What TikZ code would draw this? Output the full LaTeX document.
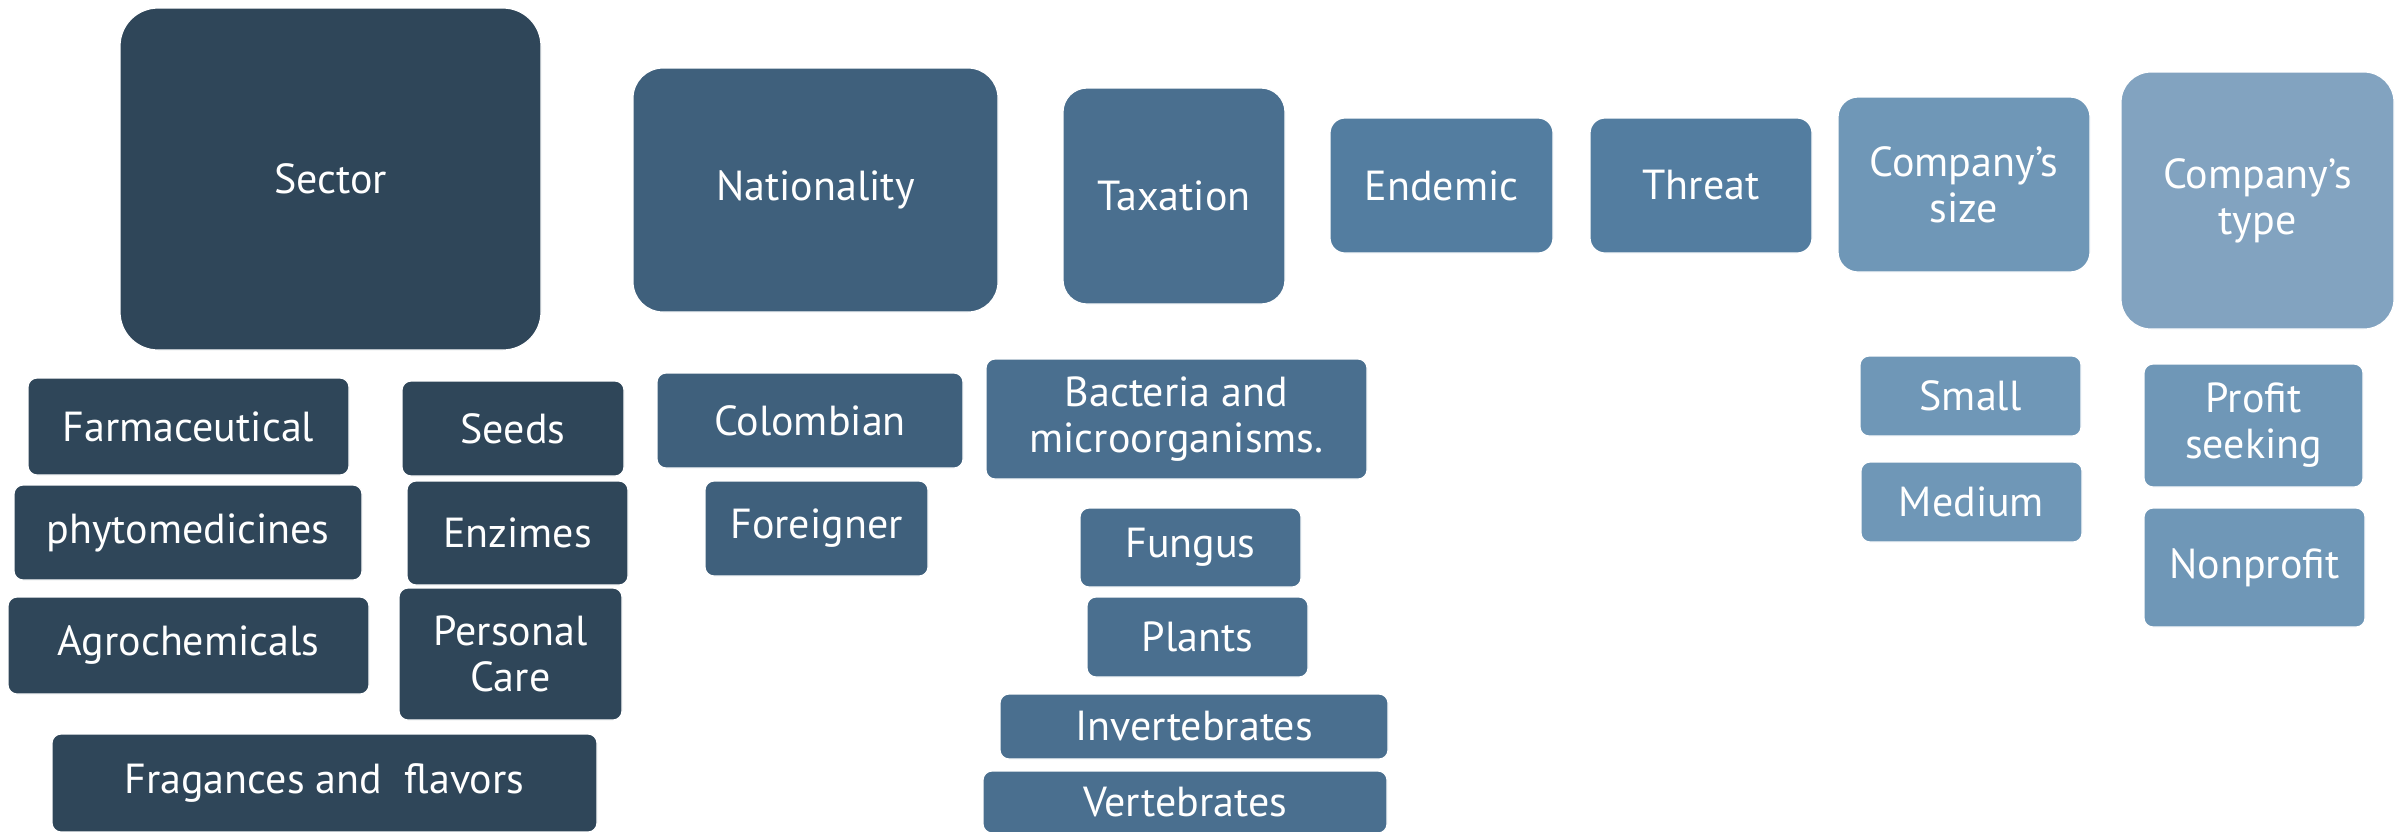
\documentclass[tikz,border=0pt]{standalone}
\usepackage{fontspec}
\setmainfont{PT Sans}
\definecolor{cA}{HTML}{2F4659}
\definecolor{cB}{HTML}{3F607C}
\definecolor{cC}{HTML}{4A6F8F}
\definecolor{cD}{HTML}{537DA0}
\definecolor{cE}{HTML}{6F97B7}
\definecolor{cF}{HTML}{82A3C0}
\tikzset{
  box/.style={rectangle, draw=white, line width=1.2pt, text=white, align=center, inner sep=0pt,
    font=\fontsize{42}{46}\selectfont},
  big/.style={box, rounded corners=30pt},
  small/.style={box, rounded corners=9pt},
}
\begin{document}
\begin{tikzpicture}[x=1pt,y=-1pt]
\useasboundingbox (0,0) rectangle (2408,831);
\begin{scope}
\clip (0,0) rectangle (2408,831);
% headers
\node[big, fill=cA, minimum width=421pt, minimum height=342pt, rounded corners=38pt] (sector) at (330.5,179) {Sector};
\node[big, fill=cB, minimum width=365pt, minimum height=244pt] (nat) at (815.5,190) {Nationality};
\node[big, fill=cC, minimum width=222pt, minimum height=216pt, rounded corners=24pt] (tax) at (1174,196) {Taxation};
\node[big, fill=cD, minimum width=223pt, minimum height=135pt, rounded corners=15pt] (end) at (1441.5,185.5) {Endemic};
\node[big, fill=cD, minimum width=222pt, minimum height=135pt, rounded corners=15pt] (thr) at (1701,185.5) {Threat};
\node[big, fill=cE, minimum width=252pt, minimum height=175pt, rounded corners=20pt] (size) at (1964,184.5) {Company’s\\size};
\node[big, fill=cF, minimum width=273pt, minimum height=257pt] (type) at (2257.5,200.5) {Company’s\\type};
% sector children
\node[small, fill=cA, minimum width=321pt, minimum height=97pt] (farm) at (188.5,426.5) {Farmaceutical};
\node[small, fill=cA, minimum width=222pt, minimum height=95pt] (seeds) at (513,428.5) {Seeds};
\node[small, fill=cA, minimum width=348pt, minimum height=95pt] (phyto) at (188,532.5) {phytomedicines};
\node[small, fill=cA, minimum width=221pt, minimum height=104pt] (enz) at (517.5,533) {Enzimes};
\node[small, fill=cA, minimum width=361pt, minimum height=97pt] (agro) at (188.5,645.5) {Agrochemicals};
\node[small, fill=cA, minimum width=223pt, minimum height=132pt] (pers) at (510.5,654) {Personal\\Care};
\node[small, fill=cA, minimum width=545pt, minimum height=98pt] (frag) at (324.5,783) {Fragances and \ flavors};
% nationality children
\node[small, fill=cB, minimum width=306pt, minimum height=95pt] (col) at (810,420.5) {Colombian};
\node[small, fill=cB, minimum width=223pt, minimum height=95pt] (for) at (816.5,528.5) {Foreigner};
% taxation children
\node[small, fill=cC, minimum width=381pt, minimum height=120pt] (bact) at (1176.5,419) {Bacteria and\\microorganisms.};
\node[small, fill=cC, minimum width=221pt, minimum height=79pt] (fung) at (1190.5,547.5) {Fungus};
\node[small, fill=cC, minimum width=221pt, minimum height=80pt] (plan) at (1197.5,637) {Plants};
\node[small, fill=cC, minimum width=388pt, minimum height=65pt] (inv) at (1194,726.5) {Invertebrates};
\node[small, fill=cC, minimum width=404pt, minimum height=62pt] (vert) at (1185,802) {Vertebrates};
% size children
\node[small, fill=cE, minimum width=221pt, minimum height=80pt] (smal) at (1970.5,396) {Small};
\node[small, fill=cE, minimum width=221pt, minimum height=80pt] (med) at (1971.5,502) {Medium};
% type children
\node[small, fill=cE, minimum width=219pt, minimum height=123pt] (prof) at (2253.5,425.5) {Profit\\seeking};
\node[small, fill=cE, minimum width=221pt, minimum height=119pt] (nonp) at (2254.5,567.5) {Nonprofit};
\end{scope}
\end{tikzpicture}
\end{document}
